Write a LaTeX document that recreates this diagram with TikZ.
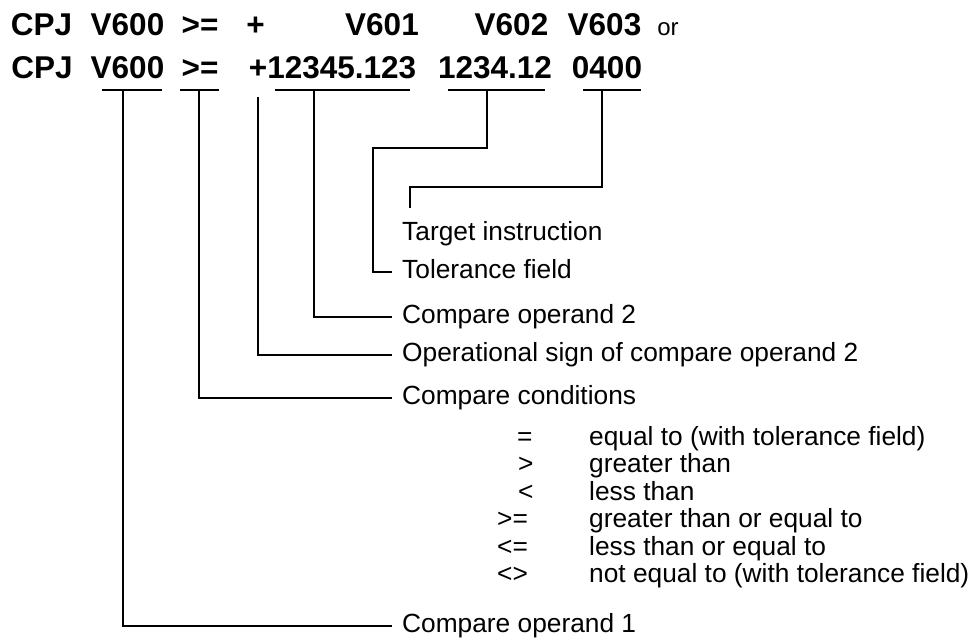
\documentclass[tikz,border=0pt]{standalone}
\usepackage{fontspec}
\setmainfont{Liberation Sans}
\usetikzlibrary{positioning,calc}
\tikzset{hdr/.style={anchor=base,inner sep=0pt,font=\fontsize{31.5}{36}\selectfont\bfseries},
  lbl/.style={anchor=west,inner xsep=10pt,inner ysep=0pt,text height=19pt,text depth=5.5pt,
    font=\fontsize{26.3}{30}\selectfont},
  cnds/.style={anchor=base west,inner sep=0pt,font=\fontsize{26.3}{30}\selectfont},
  wire/.style={line width=1.1pt,draw=black}}

\begin{document}
\begin{tikzpicture}[x=1pt,y=-1pt]
\useasboundingbox (0,0) rectangle (972,642);
% symbolic form
\node[hdr] (cpjA) at (41.5,36) {CPJ};
\node[hdr] (v600A) at (127.5,36) {V600};
\node[hdr] (cmpA) at (200,36) {>=};
\node[hdr] (sgnA) at (255.5,36) {+};
\node[hdr] (v601) at (382,36) {V601};
\node[hdr] (v602) at (511.5,36) {V602};
\node[hdr] (v603) at (604.5,36) {V603};
\node[anchor=base,inner sep=0pt,font=\fontsize{24}{28}\selectfont] (or) at (668,36) {or};
% with values
\node[hdr] (cpj) at (42,78) {CPJ};
\node[hdr] (v600) at (127.5,78) {V600};
\node[hdr] (cmp) at (200,78) {>=};
\node[hdr] (opval) at (332.5,78) {+12345.123};
\node[hdr] (tolval) at (495,78) {1234.12};
\node[hdr] (tgtval) at (607,78) {0400};
% underlines
\draw[wire] (102,90)--(162,90);
\draw[wire] (180,90)--(219,90);
\draw[wire] (275,90)--(410,90);
\draw[wire] (448,90)--(545,90);
\draw[wire] (583,90)--(641,90);
\coordinate (u1) at (123,90);
\coordinate (u2) at (199,90);
\coordinate (u3) at (258,97);
\coordinate (u4) at (314,90);
\coordinate (u5) at (487,90);
\coordinate (u6) at (602,90);
\coordinate (tk) at (410,208);
% labels
\node[lbl] (tgt) at (392,233.5) {Target instruction};
\node[lbl] (tol) at (392,272) {Tolerance field};
\node[lbl] (op2) at (392,317) {Compare operand 2};
\node[lbl] (sgn) at (392,355) {Operational sign of compare operand 2};
\node[lbl] (cnd) at (392,398) {Compare conditions};
\node[lbl] (op1) at (392,626) {Compare operand 1};
% leaders
\draw[wire] (u6) |- ([yshift=21pt]tk) -- (tk);
\draw[wire] (u5) -- ++(0,58) -| ([xshift=-19pt]tol.west) -- (tol.west);
\draw[wire] (u4) |- (op2.west);
\draw[wire] (u3) |- (sgn.west);
\draw[wire] (u2) |- (cnd.west);
\draw[wire] (u1) |- (op1.west);
% compare conditions
\foreach \x/\s/\t [count=\i from 0] in {517/=/equal to (with tolerance field),
  518/>/greater than,518/</less than,497/>=/greater than or equal to,
  497/<=/less than or equal to,497/<>/not equal to (with tolerance field)}{
  \node[cnds] (s\i) at (\x,445+27.5*\i) {\s};
  \node[cnds] (d\i) at (589,445+27.5*\i) {\t};
}
\end{tikzpicture}
\end{document}
